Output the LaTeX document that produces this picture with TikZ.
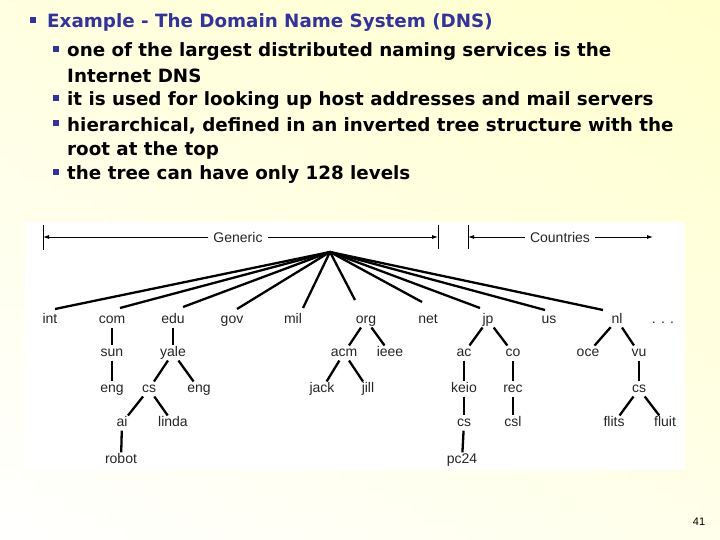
\documentclass[tikz,border=0pt]{standalone}
\usepackage{fontspec}
\setmainfont{Liberation Sans}
\newfontfamily\bfam{DejaVu Sans}
\usetikzlibrary{arrows.meta}
\definecolor{ttl}{RGB}{51,51,153}
\definecolor{bgy}{RGB}{255,255,205}
\begin{document}
\begin{tikzpicture}[x=1pt,y=-1pt,
  bul/.style={anchor=west,text=black,font=\bfam\fontsize{18.3}{20}\selectfont\bfseries,inner sep=0},
  sq/.style={fill=ttl,minimum size=6pt,inner sep=0},
  lab/.style={font=\fontsize{14}{15}\selectfont,text=black!85,inner sep=0,text height=10pt,text depth=3pt,yshift=-2pt},
  ed/.style={line width=2.3pt},
  ar/.style={line width=0.8pt,-{Latex[length=6pt,width=4pt]}},
  bar/.style={line width=0.8pt}]
\useasboundingbox (0,0) rectangle (720,540);
\shade[left color=white,right color=bgy] (0,0) rectangle (720,540);
\shade[top color=bgy,bottom color=white,opacity=0.6] (0,0) rectangle (720,540);
\fill[white] (25,222) rectangle (685,470);
% text
\node[sq] (s0) at (33,20) {};
\node[bul,text=ttl] (b0) at (47,23) {Example - The Domain Name System (DNS)};
\node[sq] (s1) at (56,49) {};
\node[bul] (t1) at (67,52) {one of the largest distributed naming services is the};
\node[bul] (t1b) at (67,76) {Internet DNS};
\node[sq] (s2) at (56,98) {};
\node[bul] (t2) at (67,101) {it is used for looking up host addresses and mail servers};
\node[sq] (s3) at (56,123) {};
\node[bul] (t3) at (67,126) {hierarchical, defined in an inverted tree structure with the};
\node[bul] (t3b) at (67,150) {root at the top};
\node[sq] (s4) at (56,172) {};
\node[bul] (t4) at (67,175) {the tree can have only 128 levels};
\node[font=\fontsize{11}{12}\selectfont\rmfamily,inner sep=0] (pg) at (699,522) {41};
% header arrows
\node[lab] (gen) at (238,237) {Generic};
\node[lab] (cty) at (560,237) {Countries};
\coordinate (bl) at (43,237);
\coordinate (bm1) at (438,237);
\coordinate (bm2) at (468,237);
\coordinate (br) at (653,237);
\draw[bar] (43,225) -- (43,250);
\draw[bar] (438,225) -- (438,249);
\draw[bar] (468,225) -- (468,249);
\draw[ar] (gen.west |- bl) ++(-5,0) -- (bl);
\draw[ar] (gen.east |- bl) ++(5,0) -- (bm1);
\draw[ar] (cty.west |- bl) ++(-5,0) -- (bm2);
\draw[ar] (cty.east |- bl) ++(5,0) -- (br);
% tree
\coordinate (root) at (330,252);
\foreach \n/\x in {int/50,com/112,edu/173,gov/232,mil/293,org/366,net/428,jp/488,us/549,nl/617}
  \node[lab] (\n) at (\x,318) {\n};
\node[lab] (dots) at (663,318) {. . .};
\foreach \n/\t/\x/\y in {sun/sun/112/351,yale/yale/173/351,acm/acm/344/351,ieee/ieee/390/351,ac/ac/464/351,co/co/513/351,oce/oce/588/351,vu/vu/639/351,
  eng1/eng/112/387,cs1/cs/149/387,eng2/eng/199/387,jack/jack/322/387,jill/jill/368/387,keio/keio/464/387,rec/rec/513/387,cs3/cs/639/387,
  ai/ai/122/421,linda/linda/173/421,cs2/cs/464/421,csl/csl/513/421,flits/flits/614/421,fluit/fluit/665/421,
  robot/robot/121/458,pc24/pc24/462/458}
  \node[lab] (\n) at (\x,\y) {\t};
\foreach \n/\ex/\ey in {int/55/309,com/120/308,edu/183/307,gov/237/309,mil/303/308,org/355/300,net/422/302,jp/480/308,us/545/310,nl/603/310}
  \draw[ed] (root) -- (\ex,\ey);
\foreach \a/\b in {com/sun,sun/eng1,edu/yale,yale/cs1,yale/eng2,cs1/ai,cs1/linda,ai/robot,org/acm,org/ieee,acm/jack,acm/jill,
  jp/ac,jp/co,ac/keio,keio/cs2,cs2/pc24,co/rec,rec/csl,nl/oce,nl/vu,vu/cs3,cs3/flits,cs3/fluit}
  \draw[ed,shorten <=1pt,shorten >=1pt] (\a) -- (\b);
\end{tikzpicture}
\end{document}
